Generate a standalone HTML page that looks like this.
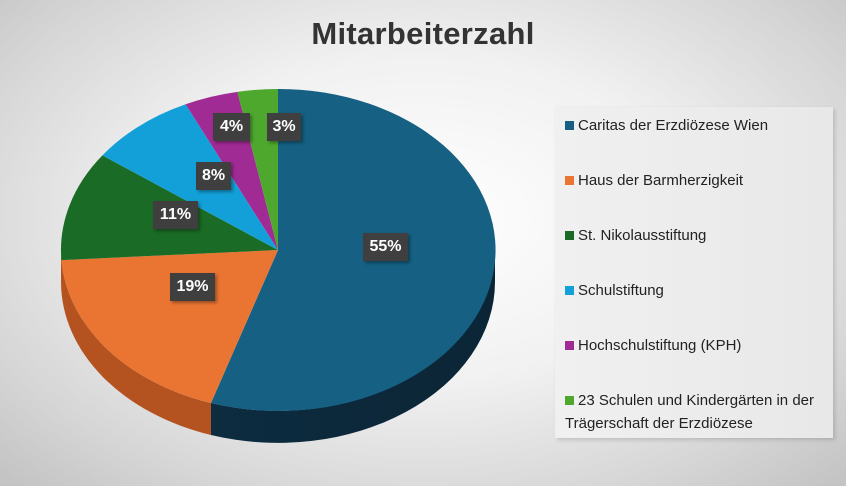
<!DOCTYPE html>
<html><head><meta charset="utf-8"><style>
html,body{margin:0;padding:0}
body{width:846px;height:486px;overflow:hidden;position:relative;background:radial-gradient(ellipse 70% 75% at 50% 45%,#ffffff 0%,#f1f1f1 45%,#d6d6d6 80%,#c4c4c4 100%);font-family:"Liberation Sans",sans-serif}
.title{position:absolute;left:0;width:846px;top:16px;text-align:center;font-size:31px;font-weight:bold;color:#333;padding-left:0;letter-spacing:0.3px}
.title span{position:relative;left:0px}
.legend{position:absolute;left:555px;top:107px;width:278px;height:331px;background:linear-gradient(90deg,#f0f0f0,#e8e8e8);box-shadow:2px 2px 4px rgba(0,0,0,0.15)}
.item{position:absolute;left:10px;font-size:15px;color:#222;line-height:23px}
.item i{display:inline-block;width:9px;height:9px;margin-right:4px;vertical-align:0px}
.lab{position:absolute;background:#3f3f3f;color:#fff;font-weight:bold;font-size:16px;text-align:center;line-height:28px;height:28px;box-shadow:2px 2px 3px rgba(0,0,0,0.35)}
</style></head><body>
<div class="title"><span>Mitarbeiterzahl</span></div>
<svg width="846" height="486" style="position:absolute;left:0;top:0">
<defs>
<linearGradient id="bs" x1="0" y1="0" x2="1" y2="0"><stop offset="0" stop-color="#0d2c40"/><stop offset="1" stop-color="#0b2535"/></linearGradient>
</defs>
<path d="M211,403 A217,161 0 0 1 61,250 L61,282 A217,161 0 0 0 211,435 Z" fill="#b4531f"/>
<path d="M495,250 A217,161 0 0 1 211,403 L211,435 A217,161 0 0 0 495,282 Z" fill="url(#bs)"/>
<path d="M278,250 L278,89 A217,161 0 1 1 211,403 Z" fill="#166083"/>
<path d="M278,250 L211,403 A217,161 0 0 1 61.4,260.1 Z" fill="#ea7533"/>
<path d="M278,250 L61.4,260.1 A217,161 0 0 1 102.4,155.4 Z" fill="#1a6b25"/>
<path d="M278,250 L102.4,155.4 A217,161 0 0 1 185.6,104.3 Z" fill="#13a0d8"/>
<path d="M278,250 L185.6,104.3 A217,161 0 0 1 237.4,91.9 Z" fill="#a12b94"/>
<path d="M278,250 L237.4,91.9 A217,161 0 0 1 278,89 Z" fill="#4ea82e"/>
</svg>
<div class="lab" style="left:363px;top:233px;width:45px">55%</div>
<div class="lab" style="left:170px;top:273px;width:45px">19%</div>
<div class="lab" style="left:153px;top:201px;width:45px">11%</div>
<div class="lab" style="left:196px;top:162px;width:35px">8%</div>
<div class="lab" style="left:213px;top:113px;width:37px">4%</div>
<div class="lab" style="left:267px;top:113px;width:34px">3%</div>
<div class="legend">
<div class="item" style="top:7px"><i style="background:#166083"></i>Caritas der Erzdiözese Wien</div>
<div class="item" style="top:62px"><i style="background:#ea7533"></i>Haus der Barmherzigkeit</div>
<div class="item" style="top:117px"><i style="background:#1a6b25"></i>St. Nikolausstiftung</div>
<div class="item" style="top:172px"><i style="background:#13a0d8"></i>Schulstiftung</div>
<div class="item" style="top:227px"><i style="background:#a12b94"></i>Hochschulstiftung (KPH)</div>
<div class="item" style="top:282px"><i style="background:#4ea82e"></i>23 Schulen und Kindergärten in der<br>Trägerschaft der Erzdiözese</div>
</div>
</body></html>
